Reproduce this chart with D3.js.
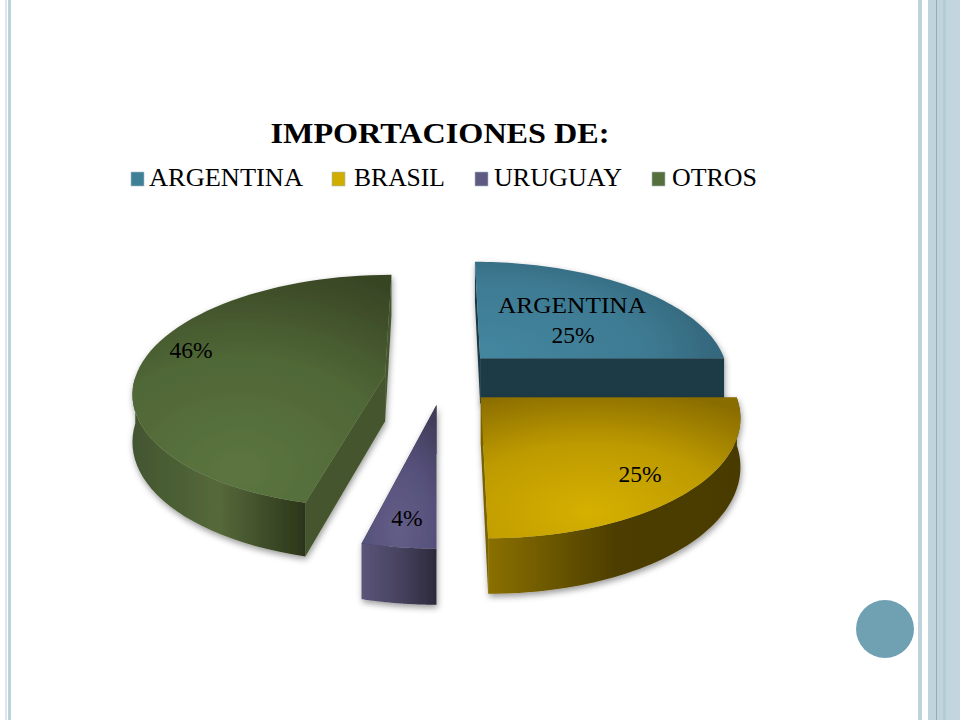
<!DOCTYPE html>
<html><head><meta charset="utf-8">
<script src="https://cdn.jsdelivr.net/npm/d3@7"></script>
<style>html,body{margin:0;padding:0;background:#fff}svg{display:block}</style>
</head><body><svg id="c" width="960" height="720"></svg>
<script>
const categories = ["ARGENTINA","BRASIL","URUGUAY","OTROS"];
const values = [25,25,4,46];
const labels = ["25%","25%","4%","46%"];
const titleText = "IMPORTACIONES DE:";

// layout and styling
const explode = [0.25,0.235,0.23,0.21];
const nudge = [0,0.005,0.027,0];
const drawOrder = [0,3,2,1];
const labelPos = [[573,343],[640,482],[407,526],[191,358]];
const legendX = [[131,149,154],[332,354,91],[475,494,128],[652,672,85]];
const palette = [
 {key:"#3f8099",top:["#44869f","#3d7a92","#2c5669"],wall:["#1e3d49","#1a343f","#10232c"],side:"#1c3a46"},
 {key:"#d1ad00",top:["#d6b000","#bd9a00","#8a6d00"],wall:["#8a7000","#4d3e00","#4a3b00"],side:"#7a6200"},
 {key:"#5f5a82",top:["#635e88","#55507a","#403b58"],wall:["#5a5579","#47425f","#2d2a3c"],side:"#3b3750"},
 {key:"#55703c",top:["#5c7640","#4f6636","#384524"],wall:["#425530","#56693a","#2b3519"],side:"#44572d"}
];
const gradC = [[490,352],[590,512],[398,530],[240,470]];
const gradR = [[290,130],[250,125],[70,130],[290,210]];
const cx=437, cy=378, rxPx=250, ryPx=115, persp=0.14, depth=46.5;

const svg = d3.select("#c");
const defs = svg.append("defs");
const blur = defs.append("filter").attr("id","sh").attr("x","-10%").attr("y","-10%").attr("width","125%").attr("height","125%");
blur.append("feDropShadow").attr("dx",1).attr("dy",3).attr("stdDeviation",3).attr("flood-color","#000").attr("flood-opacity",0.4);

// decoration
const deco = [[5,2,"#dbe7eb"],[8,3,"#bdd2da"],[918,4,"#bdd2da"],[928,8,"#c0d4dc"],[936,1,"#8fadbb"],[937,6,"#c0d4dc"],[943,3,"#b4ccd4"],[946,14,"#c4d6dd"]];
svg.selectAll("rect.deco").data(deco).join("rect").attr("class","deco")
  .attr("x",d=>d[0]).attr("y",0).attr("width",d=>d[1]).attr("height",720).attr("fill",d=>d[2]);
svg.append("circle").attr("cx",885).attr("cy",629).attr("r",29).attr("fill","#6fa1b3");

const x = d3.scaleLinear().domain([-1,1]).range([cx-rxPx,cx+rxPx]);
const y = d3.scaleLinear().domain([-1,1]).range([cy-ryPx,cy+ryPx]);
function proj(u,v,h){
  const s = 1/(1-persp*v);
  return [cx+(x(u)-cx)*s, cy+(y(v)-cy)*s+depth*h*s];
}
const pie = d3.pie().sort(null).value(d=>d);
const arcs = pie(values);
const line = d3.line();
const font = "'Liberation Serif','DejaVu Serif',serif";

palette.forEach((p,i)=>{
  const r = defs.append("radialGradient").attr("id","t"+i).attr("gradientUnits","userSpaceOnUse")
    .attr("cx",0).attr("cy",0).attr("r",1)
    .attr("gradientTransform",`translate(${gradC[i][0]},${gradC[i][1]}) scale(${gradR[i][0]},${gradR[i][1]})`);
  [0,.55,1].forEach((o,j)=>r.append("stop").attr("offset",o).attr("stop-color",p.top[j]));
  const w = defs.append("linearGradient").attr("id","w"+i);
  [0,.5,1].forEach((o,j)=>w.append("stop").attr("offset",o).attr("stop-color",p.wall[j]));
});

drawOrder.forEach(i=>{
  const a = arcs[i], mid=(a.startAngle+a.endAngle)/2, e=explode[i];
  const ou=e*Math.sin(mid)+nudge[i], ov=-e*Math.cos(mid);
  const g = svg.append("g").attr("filter","url(#sh)");
  const angs = d3.range(0,61).map(t=>a.startAngle+(a.endAngle-a.startAngle)*t/60);
  const rim = h=>angs.map(t=>proj(ou+Math.sin(t),ov-Math.cos(t),h));
  const apex = h=>proj(ou,ov,h);
  [a.startAngle,a.endAngle].forEach(t=>{
    const end=h=>proj(ou+Math.sin(t),ov-Math.cos(t),h);
    g.append("path").attr("d",line([apex(0),end(0),end(1),apex(1)])+"Z").attr("fill",palette[i].side);
  });
  const front = angs.filter(t=>Math.cos(t)<0.02);
  if(front.length){
    const pts = front.map(t=>proj(ou+Math.sin(t),ov-Math.cos(t),0))
      .concat(front.slice().reverse().map(t=>proj(ou+Math.sin(t),ov-Math.cos(t),1)));
    g.append("path").attr("d",line(pts)+"Z").attr("fill","url(#w"+i+")");
  }
  g.append("path").attr("d",line([apex(0),...rim(0)])+"Z").attr("fill","url(#t"+i+")");
});

const tt = svg.append("g").attr("font-family",font).attr("fill","#000");
tt.selectAll("text.v").data(labels).join("text").attr("class","v")
  .attr("x",(d,i)=>labelPos[i][0]).attr("y",(d,i)=>labelPos[i][1])
  .attr("text-anchor","middle").attr("font-size",23.5).text(d=>d);
tt.append("text").attr("x",572).attr("y",313).attr("text-anchor","middle").attr("font-size",24)
  .attr("textLength",148).attr("lengthAdjust","spacingAndGlyphs").text(categories[0]);

tt.append("text").attr("x",440).attr("y",143).attr("text-anchor","middle").attr("font-size",30)
  .attr("font-weight","bold").attr("textLength",339).attr("lengthAdjust","spacingAndGlyphs").text(titleText);

categories.forEach((c,i)=>{
  svg.append("rect").attr("x",legendX[i][0]).attr("y",172).attr("width",13).attr("height",14)
    .attr("fill",palette[i].key).attr("stroke","#a9bcc3").attr("stroke-width",0.6);
  tt.append("text").attr("x",legendX[i][1]).attr("y",186).attr("font-size",25)
    .attr("textLength",legendX[i][2]).attr("lengthAdjust","spacingAndGlyphs").text(c);
});
</script></body></html>
